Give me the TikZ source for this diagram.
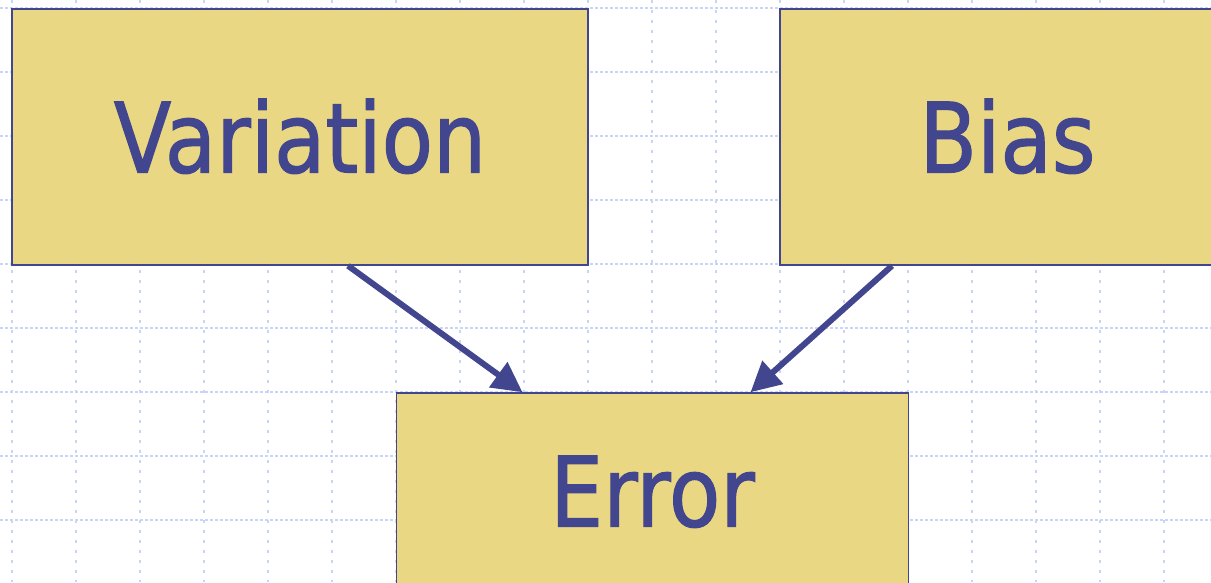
\documentclass[tikz,border=0pt]{standalone}
\usepackage{fontspec}
\newfontfamily\labelfont[FakeStretch=0.865,FakeBold=1.2]{DejaVu Sans}
\usetikzlibrary{arrows.meta}
\definecolor{ink}{RGB}{65,70,142}
\definecolor{boxfill}{RGB}{234,215,131}
\definecolor{gridblue}{RGB}{200,213,248}
\tikzset{
  gridh/.style={gridblue, line width=1.5pt, dash pattern=on 3pt off 2pt},
  gridv/.style={gridblue, line width=1.5pt, dash pattern=on 3pt off 7pt},
  term/.style={draw=ink, fill=boxfill, line width=1.5pt, inner sep=0pt,
    text=ink, font=\labelfont\fontsize{97}{97}\selectfont,
    text height=71pt, text depth=0pt},
  link/.style={ink, line width=6pt, -{Triangle[length=30pt,width=30pt]}}
}
\begin{document}
\begin{tikzpicture}[x=1pt,y=-1pt]
  \useasboundingbox (0,0) rectangle (1211,582);
  \clip (0,0) rectangle (1211,582);
  % dotted background grid
  \foreach \yy in {8,72,...,520} \draw[gridh] (0,\yy) -- (1211,\yy);
  \foreach \xx in {12,76,...,1164} \draw[gridv] (\xx,0) -- (\xx,582);
  % the three terms
  \node[term, minimum width=576pt, minimum height=256pt] (var) at (300,137) {Variation};
  \node[term, minimum width=455pt, minimum height=256pt] (bias) at (1007.5,137) {Bias};
  \node[term, minimum width=512pt, minimum height=196pt] (err) at (652.5,491) {Error};
  % contributions to the error
  \draw[link] ([xshift=48pt]var.south) -- ([xshift=-130pt]err.north);
  \draw[link] ([xshift=-115.5pt]bias.south) -- ([xshift=98pt]err.north);
\end{tikzpicture}
\end{document}
